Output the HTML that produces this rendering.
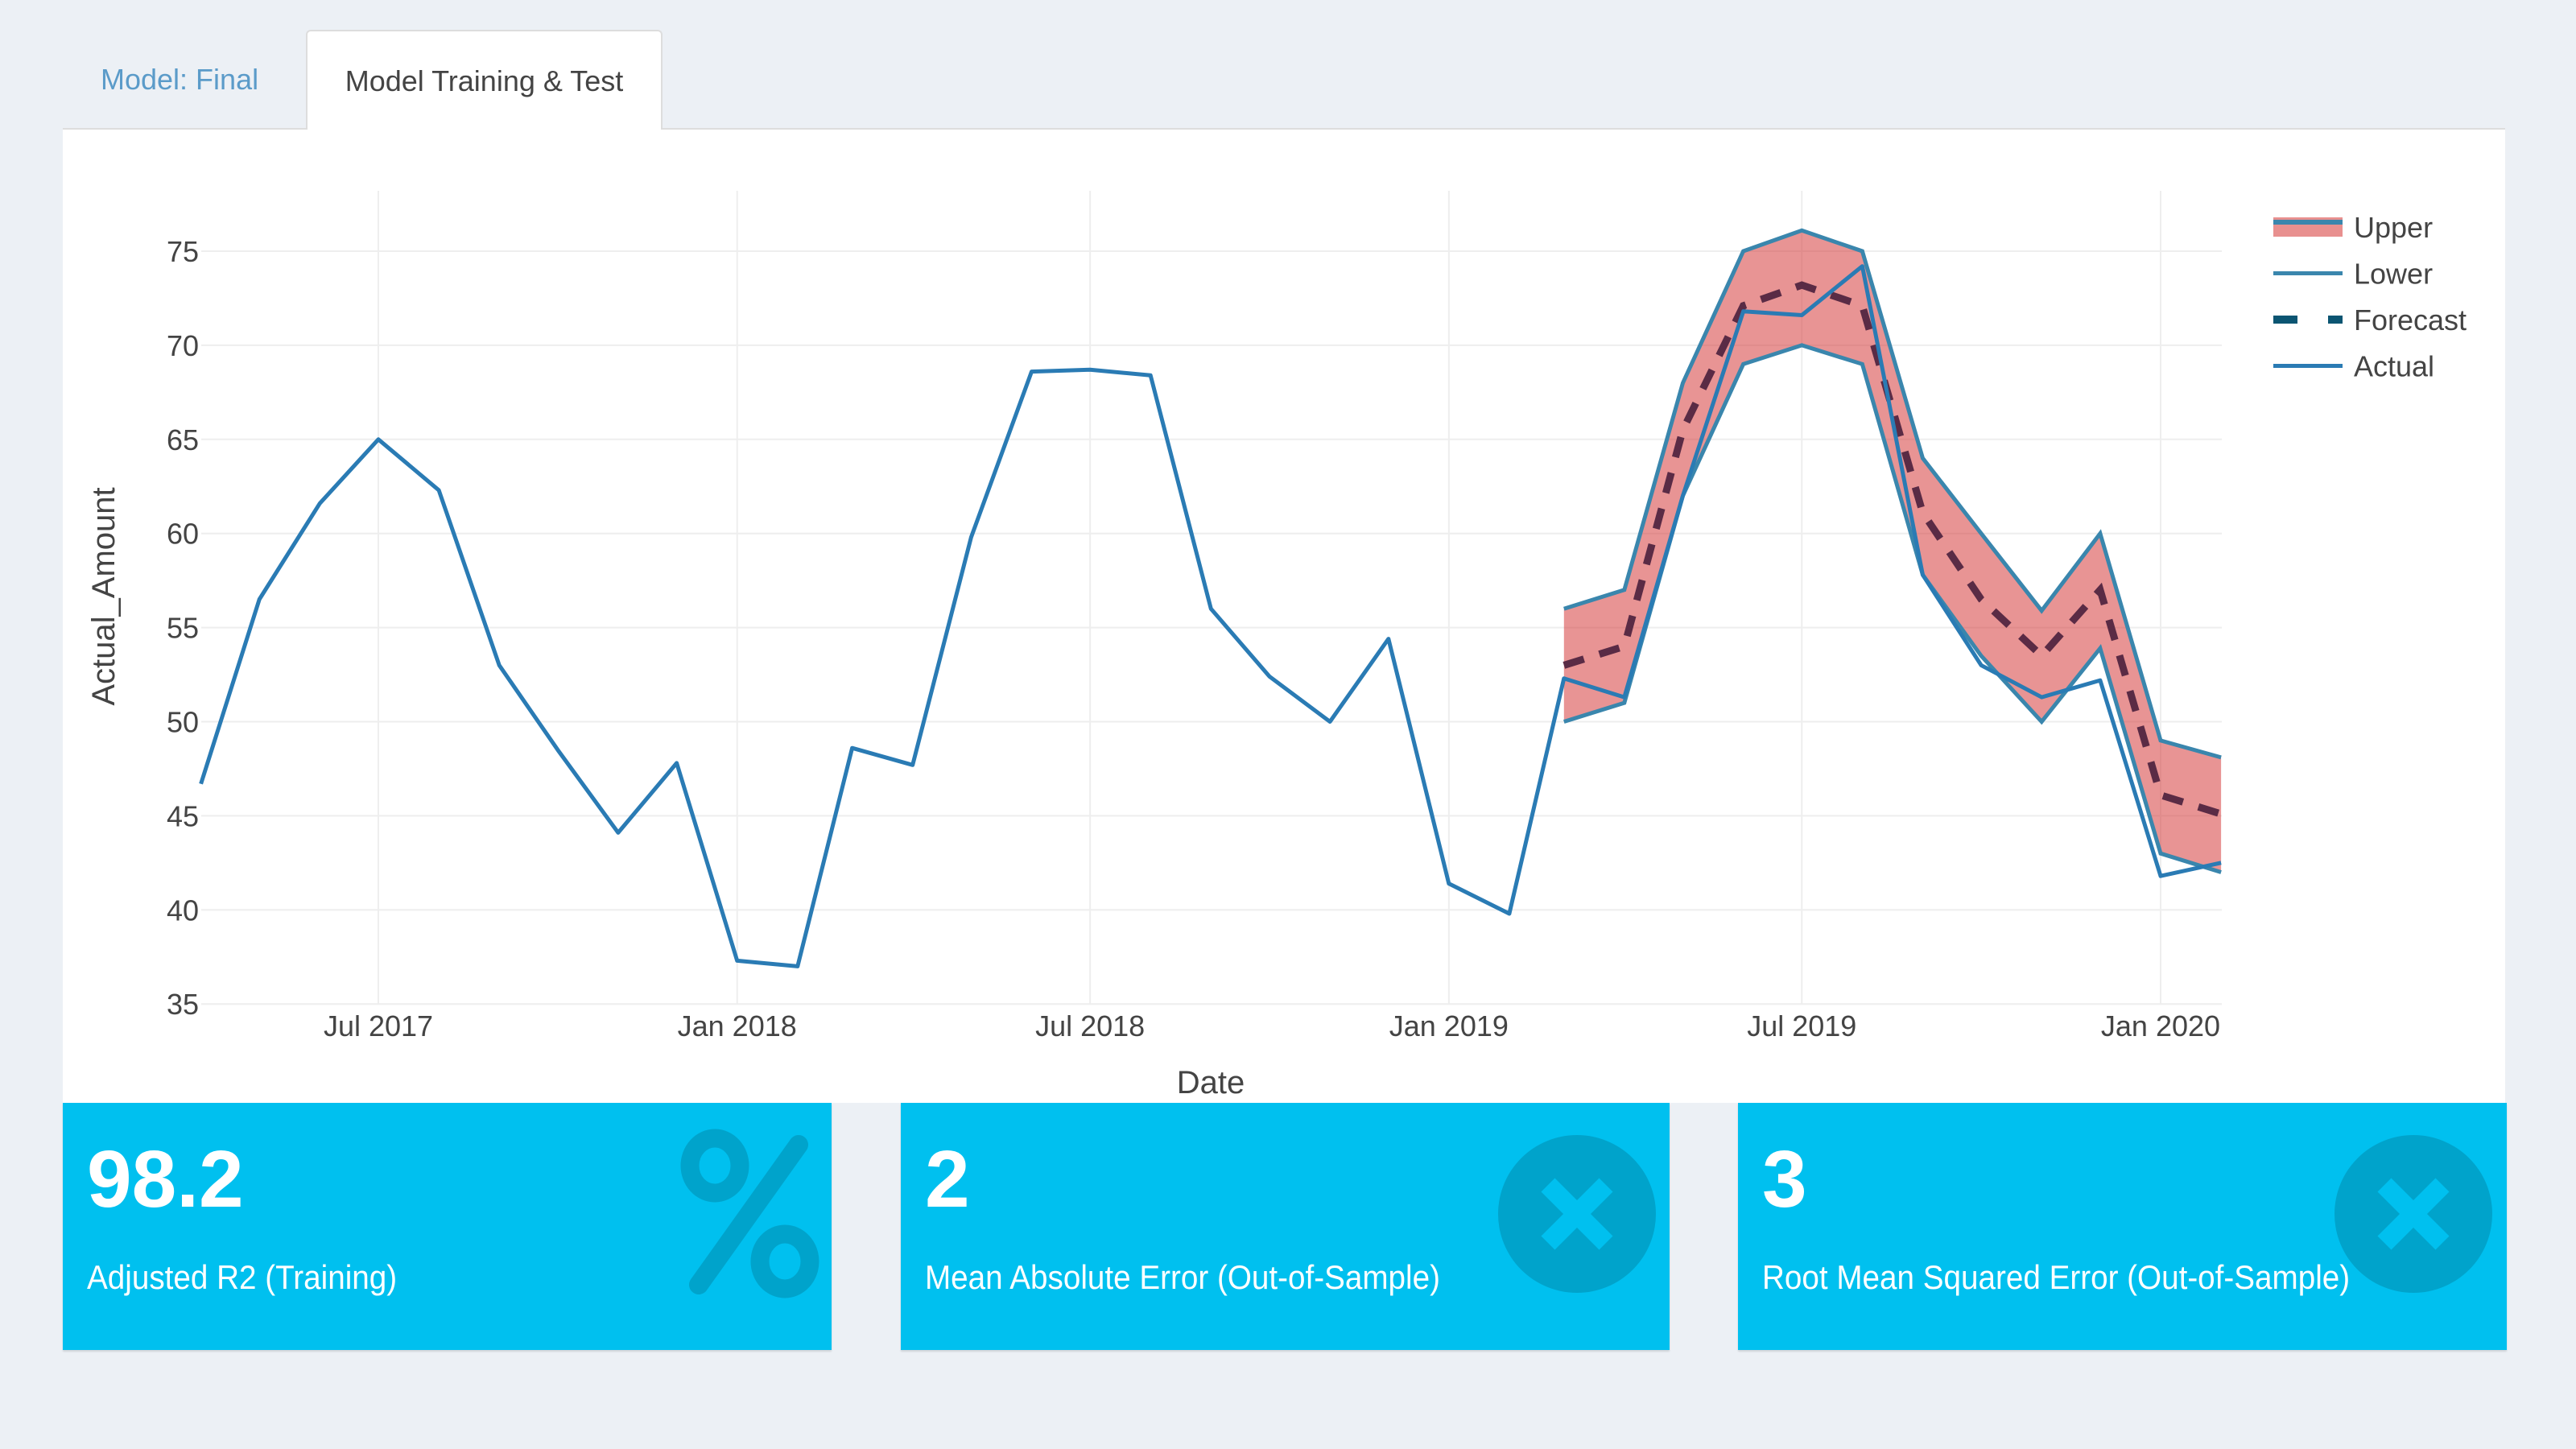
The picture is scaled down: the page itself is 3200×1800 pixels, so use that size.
<!DOCTYPE html>
<html><head><meta charset="utf-8">
<style>
html,body{margin:0;padding:0;width:3200px;height:1800px;background:#ecf0f5;overflow:hidden;font-family:"Liberation Sans",sans-serif;}
.tabbar{position:absolute;left:78px;top:0;width:3034px;height:161px;border-bottom:2px solid #ddd;box-sizing:border-box;}
.tab{position:absolute;font-size:36px;top:37px;height:124px;line-height:124px;}
.tab1{left:125px;color:#5b9bc9;}
.tab2{left:380px;width:443px;background:#fff;border:2px solid #ddd;border-bottom:none;border-radius:6px 6px 0 0;color:#444;text-align:center;box-sizing:border-box;}
.panel{position:absolute;left:78px;top:161px;width:3034px;height:1209px;background:#fff;}
.box{position:absolute;top:1370px;width:955px;height:307px;background:#00c0ef;color:#fff;box-shadow:0 2px 2px rgba(0,0,0,.12);overflow:hidden;}
.num{position:absolute;left:30px;top:38px;font-size:100px;font-weight:bold;}
.lab{position:absolute;left:30px;top:193px;font-size:42px;white-space:nowrap;transform:scaleX(.92);transform-origin:left;}
</style></head><body>
<div class="tabbar"></div>
<div class="tab tab1">Model: Final</div>
<div class="tab tab2">Model Training &amp; Test</div>
<div class="panel"></div>
<svg id="chart" width="3200" height="1800" style="position:absolute;left:0;top:0" xmlns="http://www.w3.org/2000/svg"></svg>

<div class="box" style="left:78px">
 <div class="num">98.2</div>
 <div class="lab">Adjusted R2 (Training)</div>
 <svg style="position:absolute;left:762px;top:30px" width="195" height="235">
  <g fill="none" stroke="#00a3cb" stroke-linecap="round">
   <ellipse cx="48" cy="48" rx="31" ry="34" stroke-width="23"/><ellipse cx="135" cy="167" rx="31" ry="34" stroke-width="23"/><line x1="152" y1="22" x2="28" y2="196" stroke-width="24"/>
  </g></svg>
</div>
<div class="box" style="left:1119px">
 <div class="num">2</div>
 <div class="lab">Mean Absolute Error (Out-of-Sample)</div>
 <svg style="position:absolute;left:742px;top:40px" width="196" height="196">
  <circle cx="98" cy="98" r="98" fill="#00a3cb"/><g stroke="#00c0ef" stroke-width="24"><line x1="62" y1="62" x2="134" y2="134"/><line x1="134" y1="62" x2="62" y2="134"/></g></svg>
</div>
<div class="box" style="left:2159px">
 <div class="num">3</div>
 <div class="lab">Root Mean Squared Error (Out-of-Sample)</div>
 <svg style="position:absolute;left:741px;top:40px" width="196" height="196">
  <circle cx="98" cy="98" r="98" fill="#00a3cb"/><g stroke="#00c0ef" stroke-width="24"><line x1="62" y1="62" x2="134" y2="134"/><line x1="134" y1="62" x2="62" y2="134"/></g></svg>
</div>

<script>
const actualDates=["2017-04","2017-05","2017-06","2017-07","2017-08","2017-09","2017-10","2017-11","2017-12","2018-01","2018-02","2018-03","2018-04","2018-05","2018-06","2018-07","2018-08","2018-09","2018-10","2018-11","2018-12","2019-01","2019-02","2019-03","2019-04","2019-05","2019-06","2019-07","2019-08","2019-09","2019-10","2019-11","2019-12","2020-01","2020-02"];
const actualValues=[46.7,56.5,61.6,65,62.3,53,48.5,44.1,47.8,37.3,37,48.6,47.7,59.8,68.6,68.7,68.4,56,52.4,50,54.4,41.4,39.8,52.3,51.3,62,71.8,71.6,74.2,57.8,53,51.3,52.2,41.8,42.5];
const testDates=["2019-03","2019-04","2019-05","2019-06","2019-07","2019-08","2019-09","2019-10","2019-11","2019-12","2020-01","2020-02"];
const upperValues=[56,57,68,75,76.1,75,64,60,55.9,60,49,48.1];
const lowerValues=[50,51,62,69,70,69,57.8,53.5,50,53.9,43,42];
const forecastValues=[53,54,65.5,72.1,73.2,72.1,61.1,56.5,53.5,57,46.1,45.1];
const xTickDates=["2017-07","2018-01","2018-07","2019-01","2019-07","2020-01"];
const xTickLabels=["Jul 2017","Jan 2018","Jul 2018","Jan 2019","Jul 2019","Jan 2020"];
const yTicks=[35,40,45,50,55,60,65,70,75];

const NS="http://www.w3.org/2000/svg";
const svg=document.getElementById('chart');
const t0=Date.UTC(2017,6,1);
function dayOf(s){const [y,m]=s.split('-').map(Number);return (Date.UTC(y,m-1,1)-t0)/86400000;}
function X(s){return 470+dayOf(s)*2.4223;}
function Y(v){return 312+(75-v)*23.38;}
const PL=250,PR=2760,PT=237,PB=1247;
function el(tag,attrs,parent){const e=document.createElementNS(NS,tag);for(const k in attrs)e.setAttribute(k,attrs[k]);(parent||svg).appendChild(e);return e;}

yTicks.forEach(v=>{
  const g=el('line',{x1:PL,x2:PR,y1:Y(v),y2:Y(v),stroke:'#eee','stroke-width':2});
  
  
  const t=el('text',{x:247,y:Y(v)+13,'text-anchor':'end','font-size':36,fill:'#444'});
  t.textContent=v;
  
  
});
xTickDates.forEach((d,i)=>{
  const g=el('line',{x1:X(d),x2:X(d),y1:PT,y2:PB,stroke:'#eee','stroke-width':2});
  
  
  const t=el('text',{x:X(d),y:1287,'text-anchor':'middle','font-size':36,fill:'#444'});
  t.textContent=xTickLabels[i];
  
  
});
function pts(ds,vs){return ds.map((d,i)=>X(d).toFixed(1)+','+Y(vs[i]).toFixed(1)).join(' ');}
const band=el('polygon',{points:pts(testDates,upperValues)+' '+pts(testDates.slice().reverse(),lowerValues.slice().reverse()),fill:'rgba(214,60,60,0.55)'});


const lo=el('polyline',{points:pts(testDates,lowerValues),fill:'none',stroke:'#3a86ad','stroke-width':5});


const up=el('polyline',{points:pts(testDates,upperValues),fill:'none',stroke:'#3a86ad','stroke-width':5});


const fc=el('polyline',{points:pts(testDates,forecastValues),fill:'none',stroke:'#5a2b45','stroke-width':9,'stroke-dasharray':'26,20'});


const ac=el('polyline',{points:pts(actualDates,actualValues),fill:'none',stroke:'#2a7bb4','stroke-width':5,'stroke-linejoin':'round'});



const xt=el('text',{x:1504,y:1358,'text-anchor':'middle','font-size':40,fill:'#444'});
xt.textContent='Date';


const yt=el('text',{x:0,y:0,'text-anchor':'middle','font-size':40,fill:'#444',transform:'translate(142,741) rotate(-90)'});
yt.textContent='Actual_Amount';



const legendNames=["Upper","Lower","Forecast","Actual"];
legendNames.forEach((n,i)=>{
  const y=282+i*57.5;
  const g=el('g',{});
  
  
  if(i===0){el('rect',{x:2824,y:y-12,width:86,height:24,fill:'#e8908f'},g);el('line',{x1:2824,x2:2910,y1:y-6,y2:y-6,stroke:'#3a86ad','stroke-width':6},g);}
  else if(i===2){el('line',{x1:2824,x2:2910,y1:y,y2:y,stroke:'#0b5572','stroke-width':10,'stroke-dasharray':'30,38'},g);}
  else el('line',{x1:2824,x2:2910,y1:y,y2:y,stroke:i===1?'#3a86ad':'#2a7bb4','stroke-width':5},g);
  const t=el('text',{x:2924,y:y+13,'font-size':36,fill:'#444'},g);
  t.textContent=n;
});
</script>
</body></html>
